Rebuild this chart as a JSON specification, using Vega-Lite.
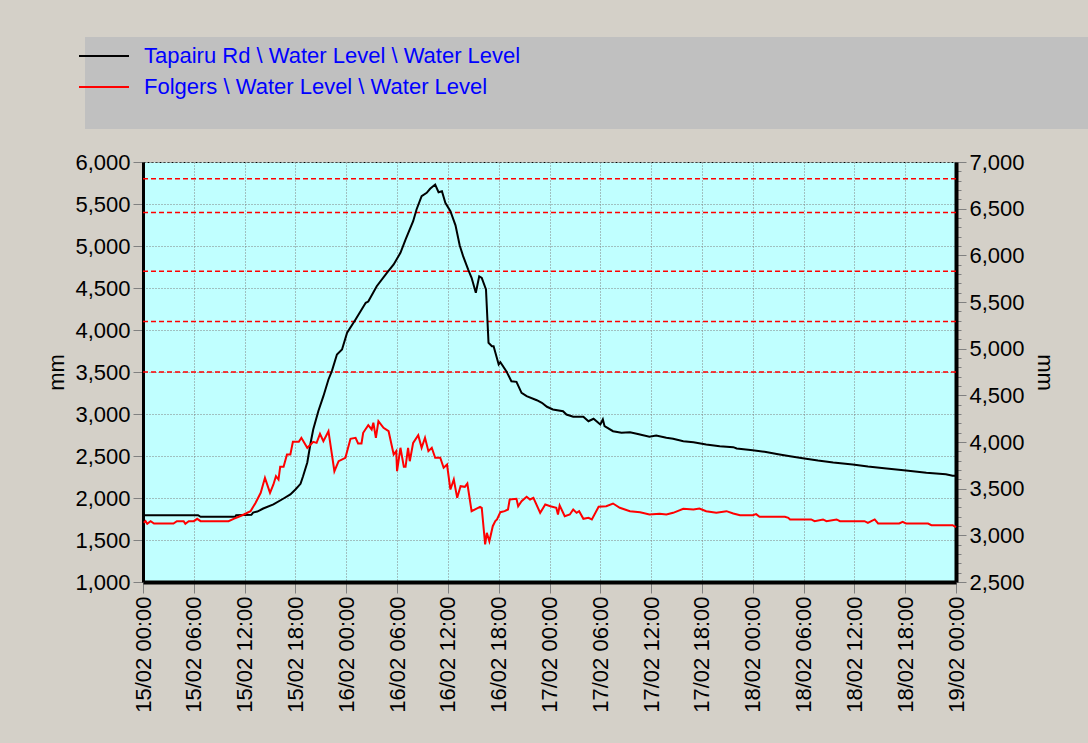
{
  "$schema": "https://vega.github.io/schema/vega-lite/v6.json",
  "width": 813,
  "height": 420,
  "autosize": {"type": "none"},
  "padding": {"left": 143, "top": 162, "right": 132, "bottom": 161},
  "background": "#d4d0c8",
  "config": {
    "font": "Liberation Sans",
    "view": {"fill": "#c0ffff", "stroke": "#000000", "strokeDash": [2, 2], "strokeWidth": 1},
    "axis": {
      "labelFont": "Liberation Sans",
      "labelFontSize": 22,
      "labelColor": "#000000",
      "titleFont": "Liberation Sans",
      "titleFontSize": 22,
      "titleFontWeight": "normal",
      "titleColor": "#000000",
      "domainColor": "#000000",
      "domainWidth": 3,
      "tickColor": "#808080",
      "tickWidth": 1,
      "tickSize": 10,
      "gridColor": "#808080",
      "gridDash": [1, 2],
      "gridWidth": 1
    }
  },
  "datasets": {
    "tap": [
      {"t": "2021-02-15T00:00", "s": "Tapairu Rd \\ Water Level \\ Water Level", "v": 1795},
      {"t": "2021-02-15T06:30", "s": "Tapairu Rd \\ Water Level \\ Water Level", "v": 1795},
      {"t": "2021-02-15T06:48", "s": "Tapairu Rd \\ Water Level \\ Water Level", "v": 1776},
      {"t": "2021-02-15T10:54", "s": "Tapairu Rd \\ Water Level \\ Water Level", "v": 1776},
      {"t": "2021-02-15T11:00", "s": "Tapairu Rd \\ Water Level \\ Water Level", "v": 1795},
      {"t": "2021-02-15T12:48", "s": "Tapairu Rd \\ Water Level \\ Water Level", "v": 1800},
      {"t": "2021-02-15T13:00", "s": "Tapairu Rd \\ Water Level \\ Water Level", "v": 1827},
      {"t": "2021-02-15T13:30", "s": "Tapairu Rd \\ Water Level \\ Water Level", "v": 1839},
      {"t": "2021-02-15T14:12", "s": "Tapairu Rd \\ Water Level \\ Water Level", "v": 1875},
      {"t": "2021-02-15T15:24", "s": "Tapairu Rd \\ Water Level \\ Water Level", "v": 1923},
      {"t": "2021-02-15T16:36", "s": "Tapairu Rd \\ Water Level \\ Water Level", "v": 1994},
      {"t": "2021-02-15T17:24", "s": "Tapairu Rd \\ Water Level \\ Water Level", "v": 2042},
      {"t": "2021-02-15T18:00", "s": "Tapairu Rd \\ Water Level \\ Water Level", "v": 2101},
      {"t": "2021-02-15T18:36", "s": "Tapairu Rd \\ Water Level \\ Water Level", "v": 2169},
      {"t": "2021-02-15T18:54", "s": "Tapairu Rd \\ Water Level \\ Water Level", "v": 2259},
      {"t": "2021-02-15T19:24", "s": "Tapairu Rd \\ Water Level \\ Water Level", "v": 2423},
      {"t": "2021-02-15T19:48", "s": "Tapairu Rd \\ Water Level \\ Water Level", "v": 2661},
      {"t": "2021-02-15T20:06", "s": "Tapairu Rd \\ Water Level \\ Water Level", "v": 2815},
      {"t": "2021-02-15T20:42", "s": "Tapairu Rd \\ Water Level \\ Water Level", "v": 3033},
      {"t": "2021-02-15T21:18", "s": "Tapairu Rd \\ Water Level \\ Water Level", "v": 3212},
      {"t": "2021-02-15T21:54", "s": "Tapairu Rd \\ Water Level \\ Water Level", "v": 3411},
      {"t": "2021-02-15T22:18", "s": "Tapairu Rd \\ Water Level \\ Water Level", "v": 3510},
      {"t": "2021-02-15T22:54", "s": "Tapairu Rd \\ Water Level \\ Water Level", "v": 3708},
      {"t": "2021-02-15T23:30", "s": "Tapairu Rd \\ Water Level \\ Water Level", "v": 3768},
      {"t": "2021-02-16T00:06", "s": "Tapairu Rd \\ Water Level \\ Water Level", "v": 3967},
      {"t": "2021-02-16T01:06", "s": "Tapairu Rd \\ Water Level \\ Water Level", "v": 4125},
      {"t": "2021-02-16T02:18", "s": "Tapairu Rd \\ Water Level \\ Water Level", "v": 4324},
      {"t": "2021-02-16T02:36", "s": "Tapairu Rd \\ Water Level \\ Water Level", "v": 4339},
      {"t": "2021-02-16T03:36", "s": "Tapairu Rd \\ Water Level \\ Water Level", "v": 4521},
      {"t": "2021-02-16T04:48", "s": "Tapairu Rd \\ Water Level \\ Water Level", "v": 4681},
      {"t": "2021-02-16T05:36", "s": "Tapairu Rd \\ Water Level \\ Water Level", "v": 4780},
      {"t": "2021-02-16T06:24", "s": "Tapairu Rd \\ Water Level \\ Water Level", "v": 4919},
      {"t": "2021-02-16T07:00", "s": "Tapairu Rd \\ Water Level \\ Water Level", "v": 5077},
      {"t": "2021-02-16T07:54", "s": "Tapairu Rd \\ Water Level \\ Water Level", "v": 5295},
      {"t": "2021-02-16T08:18", "s": "Tapairu Rd \\ Water Level \\ Water Level", "v": 5435},
      {"t": "2021-02-16T08:54", "s": "Tapairu Rd \\ Water Level \\ Water Level", "v": 5593},
      {"t": "2021-02-16T09:30", "s": "Tapairu Rd \\ Water Level \\ Water Level", "v": 5633},
      {"t": "2021-02-16T09:54", "s": "Tapairu Rd \\ Water Level \\ Water Level", "v": 5681},
      {"t": "2021-02-16T10:30", "s": "Tapairu Rd \\ Water Level \\ Water Level", "v": 5732},
      {"t": "2021-02-16T10:54", "s": "Tapairu Rd \\ Water Level \\ Water Level", "v": 5640},
      {"t": "2021-02-16T11:18", "s": "Tapairu Rd \\ Water Level \\ Water Level", "v": 5652},
      {"t": "2021-02-16T11:42", "s": "Tapairu Rd \\ Water Level \\ Water Level", "v": 5514},
      {"t": "2021-02-16T12:18", "s": "Tapairu Rd \\ Water Level \\ Water Level", "v": 5414},
      {"t": "2021-02-16T12:54", "s": "Tapairu Rd \\ Water Level \\ Water Level", "v": 5246},
      {"t": "2021-02-16T13:24", "s": "Tapairu Rd \\ Water Level \\ Water Level", "v": 5006},
      {"t": "2021-02-16T13:48", "s": "Tapairu Rd \\ Water Level \\ Water Level", "v": 4879},
      {"t": "2021-02-16T14:24", "s": "Tapairu Rd \\ Water Level \\ Water Level", "v": 4720},
      {"t": "2021-02-16T14:48", "s": "Tapairu Rd \\ Water Level \\ Water Level", "v": 4621},
      {"t": "2021-02-16T15:18", "s": "Tapairu Rd \\ Water Level \\ Water Level", "v": 4443},
      {"t": "2021-02-16T15:42", "s": "Tapairu Rd \\ Water Level \\ Water Level", "v": 4640},
      {"t": "2021-02-16T16:00", "s": "Tapairu Rd \\ Water Level \\ Water Level", "v": 4621},
      {"t": "2021-02-16T16:30", "s": "Tapairu Rd \\ Water Level \\ Water Level", "v": 4482},
      {"t": "2021-02-16T16:48", "s": "Tapairu Rd \\ Water Level \\ Water Level", "v": 3848},
      {"t": "2021-02-16T17:12", "s": "Tapairu Rd \\ Water Level \\ Water Level", "v": 3807},
      {"t": "2021-02-16T17:24", "s": "Tapairu Rd \\ Water Level \\ Water Level", "v": 3807},
      {"t": "2021-02-16T18:00", "s": "Tapairu Rd \\ Water Level \\ Water Level", "v": 3589},
      {"t": "2021-02-16T18:12", "s": "Tapairu Rd \\ Water Level \\ Water Level", "v": 3617},
      {"t": "2021-02-16T18:54", "s": "Tapairu Rd \\ Water Level \\ Water Level", "v": 3510},
      {"t": "2021-02-16T19:30", "s": "Tapairu Rd \\ Water Level \\ Water Level", "v": 3390},
      {"t": "2021-02-16T20:06", "s": "Tapairu Rd \\ Water Level \\ Water Level", "v": 3383},
      {"t": "2021-02-16T20:42", "s": "Tapairu Rd \\ Water Level \\ Water Level", "v": 3252},
      {"t": "2021-02-16T21:18", "s": "Tapairu Rd \\ Water Level \\ Water Level", "v": 3212},
      {"t": "2021-02-16T22:30", "s": "Tapairu Rd \\ Water Level \\ Water Level", "v": 3164},
      {"t": "2021-02-16T23:06", "s": "Tapairu Rd \\ Water Level \\ Water Level", "v": 3133},
      {"t": "2021-02-16T23:42", "s": "Tapairu Rd \\ Water Level \\ Water Level", "v": 3086},
      {"t": "2021-02-17T00:24", "s": "Tapairu Rd \\ Water Level \\ Water Level", "v": 3054},
      {"t": "2021-02-17T01:36", "s": "Tapairu Rd \\ Water Level \\ Water Level", "v": 3033},
      {"t": "2021-02-17T02:00", "s": "Tapairu Rd \\ Water Level \\ Water Level", "v": 2994},
      {"t": "2021-02-17T02:48", "s": "Tapairu Rd \\ Water Level \\ Water Level", "v": 2967},
      {"t": "2021-02-17T04:00", "s": "Tapairu Rd \\ Water Level \\ Water Level", "v": 2967},
      {"t": "2021-02-17T04:36", "s": "Tapairu Rd \\ Water Level \\ Water Level", "v": 2914},
      {"t": "2021-02-17T05:12", "s": "Tapairu Rd \\ Water Level \\ Water Level", "v": 2943},
      {"t": "2021-02-17T06:00", "s": "Tapairu Rd \\ Water Level \\ Water Level", "v": 2875},
      {"t": "2021-02-17T06:18", "s": "Tapairu Rd \\ Water Level \\ Water Level", "v": 2935},
      {"t": "2021-02-17T06:30", "s": "Tapairu Rd \\ Water Level \\ Water Level", "v": 2855},
      {"t": "2021-02-17T07:30", "s": "Tapairu Rd \\ Water Level \\ Water Level", "v": 2795},
      {"t": "2021-02-17T08:30", "s": "Tapairu Rd \\ Water Level \\ Water Level", "v": 2776},
      {"t": "2021-02-17T09:30", "s": "Tapairu Rd \\ Water Level \\ Water Level", "v": 2783},
      {"t": "2021-02-17T10:18", "s": "Tapairu Rd \\ Water Level \\ Water Level", "v": 2764},
      {"t": "2021-02-17T11:48", "s": "Tapairu Rd \\ Water Level \\ Water Level", "v": 2729},
      {"t": "2021-02-17T12:36", "s": "Tapairu Rd \\ Water Level \\ Water Level", "v": 2744},
      {"t": "2021-02-17T13:48", "s": "Tapairu Rd \\ Water Level \\ Water Level", "v": 2717},
      {"t": "2021-02-17T14:36", "s": "Tapairu Rd \\ Water Level \\ Water Level", "v": 2705},
      {"t": "2021-02-17T15:48", "s": "Tapairu Rd \\ Water Level \\ Water Level", "v": 2676},
      {"t": "2021-02-17T17:00", "s": "Tapairu Rd \\ Water Level \\ Water Level", "v": 2664},
      {"t": "2021-02-17T18:30", "s": "Tapairu Rd \\ Water Level \\ Water Level", "v": 2637},
      {"t": "2021-02-17T20:06", "s": "Tapairu Rd \\ Water Level \\ Water Level", "v": 2617},
      {"t": "2021-02-17T21:42", "s": "Tapairu Rd \\ Water Level \\ Water Level", "v": 2605},
      {"t": "2021-02-17T22:06", "s": "Tapairu Rd \\ Water Level \\ Water Level", "v": 2589},
      {"t": "2021-02-18T00:00", "s": "Tapairu Rd \\ Water Level \\ Water Level", "v": 2569},
      {"t": "2021-02-18T01:24", "s": "Tapairu Rd \\ Water Level \\ Water Level", "v": 2550},
      {"t": "2021-02-18T03:00", "s": "Tapairu Rd \\ Water Level \\ Water Level", "v": 2521},
      {"t": "2021-02-18T04:24", "s": "Tapairu Rd \\ Water Level \\ Water Level", "v": 2498},
      {"t": "2021-02-18T05:54", "s": "Tapairu Rd \\ Water Level \\ Water Level", "v": 2474},
      {"t": "2021-02-18T07:42", "s": "Tapairu Rd \\ Water Level \\ Water Level", "v": 2446},
      {"t": "2021-02-18T09:30", "s": "Tapairu Rd \\ Water Level \\ Water Level", "v": 2423},
      {"t": "2021-02-18T11:48", "s": "Tapairu Rd \\ Water Level \\ Water Level", "v": 2399},
      {"t": "2021-02-18T13:36", "s": "Tapairu Rd \\ Water Level \\ Water Level", "v": 2375},
      {"t": "2021-02-18T15:48", "s": "Tapairu Rd \\ Water Level \\ Water Level", "v": 2351},
      {"t": "2021-02-18T18:06", "s": "Tapairu Rd \\ Water Level \\ Water Level", "v": 2327},
      {"t": "2021-02-18T20:30", "s": "Tapairu Rd \\ Water Level \\ Water Level", "v": 2300},
      {"t": "2021-02-18T22:48", "s": "Tapairu Rd \\ Water Level \\ Water Level", "v": 2283},
      {"t": "2021-02-18T23:36", "s": "Tapairu Rd \\ Water Level \\ Water Level", "v": 2264},
      {"t": "2021-02-19T00:00", "s": "Tapairu Rd \\ Water Level \\ Water Level", "v": 2264}
    ],
    "fol": [
      {"t": "2021-02-15T00:06", "s": "Folgers \\ Water Level \\ Water Level", "v": 3134},
      {"t": "2021-02-15T00:18", "s": "Folgers \\ Water Level \\ Water Level", "v": 3152},
      {"t": "2021-02-15T00:30", "s": "Folgers \\ Water Level \\ Water Level", "v": 3124},
      {"t": "2021-02-15T00:54", "s": "Folgers \\ Water Level \\ Water Level", "v": 3152},
      {"t": "2021-02-15T01:18", "s": "Folgers \\ Water Level \\ Water Level", "v": 3127},
      {"t": "2021-02-15T03:36", "s": "Folgers \\ Water Level \\ Water Level", "v": 3127},
      {"t": "2021-02-15T04:00", "s": "Folgers \\ Water Level \\ Water Level", "v": 3152},
      {"t": "2021-02-15T04:48", "s": "Folgers \\ Water Level \\ Water Level", "v": 3152},
      {"t": "2021-02-15T05:00", "s": "Folgers \\ Water Level \\ Water Level", "v": 3124},
      {"t": "2021-02-15T05:24", "s": "Folgers \\ Water Level \\ Water Level", "v": 3152},
      {"t": "2021-02-15T06:00", "s": "Folgers \\ Water Level \\ Water Level", "v": 3152},
      {"t": "2021-02-15T06:24", "s": "Folgers \\ Water Level \\ Water Level", "v": 3177},
      {"t": "2021-02-15T06:48", "s": "Folgers \\ Water Level \\ Water Level", "v": 3152},
      {"t": "2021-02-15T10:06", "s": "Folgers \\ Water Level \\ Water Level", "v": 3152},
      {"t": "2021-02-15T10:42", "s": "Folgers \\ Water Level \\ Water Level", "v": 3177},
      {"t": "2021-02-15T11:18", "s": "Folgers \\ Water Level \\ Water Level", "v": 3199},
      {"t": "2021-02-15T11:54", "s": "Folgers \\ Water Level \\ Water Level", "v": 3223},
      {"t": "2021-02-15T12:42", "s": "Folgers \\ Water Level \\ Water Level", "v": 3259},
      {"t": "2021-02-15T13:18", "s": "Folgers \\ Water Level \\ Water Level", "v": 3349},
      {"t": "2021-02-15T13:54", "s": "Folgers \\ Water Level \\ Water Level", "v": 3456},
      {"t": "2021-02-15T14:24", "s": "Folgers \\ Water Level \\ Water Level", "v": 3616},
      {"t": "2021-02-15T15:00", "s": "Folgers \\ Water Level \\ Water Level", "v": 3456},
      {"t": "2021-02-15T15:24", "s": "Folgers \\ Water Level \\ Water Level", "v": 3545},
      {"t": "2021-02-15T15:42", "s": "Folgers \\ Water Level \\ Water Level", "v": 3634},
      {"t": "2021-02-15T16:00", "s": "Folgers \\ Water Level \\ Water Level", "v": 3598},
      {"t": "2021-02-15T16:12", "s": "Folgers \\ Water Level \\ Water Level", "v": 3734},
      {"t": "2021-02-15T16:36", "s": "Folgers \\ Water Level \\ Water Level", "v": 3734},
      {"t": "2021-02-15T17:00", "s": "Folgers \\ Water Level \\ Water Level", "v": 3866},
      {"t": "2021-02-15T17:24", "s": "Folgers \\ Water Level \\ Water Level", "v": 3866},
      {"t": "2021-02-15T17:42", "s": "Folgers \\ Water Level \\ Water Level", "v": 4002},
      {"t": "2021-02-15T18:24", "s": "Folgers \\ Water Level \\ Water Level", "v": 4002},
      {"t": "2021-02-15T18:42", "s": "Folgers \\ Water Level \\ Water Level", "v": 4045},
      {"t": "2021-02-15T19:24", "s": "Folgers \\ Water Level \\ Water Level", "v": 3938},
      {"t": "2021-02-15T19:48", "s": "Folgers \\ Water Level \\ Water Level", "v": 3973},
      {"t": "2021-02-15T20:06", "s": "Folgers \\ Water Level \\ Water Level", "v": 4002},
      {"t": "2021-02-15T20:30", "s": "Folgers \\ Water Level \\ Water Level", "v": 3991},
      {"t": "2021-02-15T20:54", "s": "Folgers \\ Water Level \\ Water Level", "v": 4088},
      {"t": "2021-02-15T21:18", "s": "Folgers \\ Water Level \\ Water Level", "v": 4009},
      {"t": "2021-02-15T21:54", "s": "Folgers \\ Water Level \\ Water Level", "v": 4116},
      {"t": "2021-02-15T22:36", "s": "Folgers \\ Water Level \\ Water Level", "v": 3687},
      {"t": "2021-02-15T23:06", "s": "Folgers \\ Water Level \\ Water Level", "v": 3794},
      {"t": "2021-02-15T23:54", "s": "Folgers \\ Water Level \\ Water Level", "v": 3831},
      {"t": "2021-02-16T00:30", "s": "Folgers \\ Water Level \\ Water Level", "v": 4034},
      {"t": "2021-02-16T01:06", "s": "Folgers \\ Water Level \\ Water Level", "v": 4045},
      {"t": "2021-02-16T01:24", "s": "Folgers \\ Water Level \\ Water Level", "v": 3984},
      {"t": "2021-02-16T01:48", "s": "Folgers \\ Water Level \\ Water Level", "v": 3984},
      {"t": "2021-02-16T02:00", "s": "Folgers \\ Water Level \\ Water Level", "v": 4099},
      {"t": "2021-02-16T02:36", "s": "Folgers \\ Water Level \\ Water Level", "v": 4180},
      {"t": "2021-02-16T03:00", "s": "Folgers \\ Water Level \\ Water Level", "v": 4134},
      {"t": "2021-02-16T03:12", "s": "Folgers \\ Water Level \\ Water Level", "v": 4206},
      {"t": "2021-02-16T03:30", "s": "Folgers \\ Water Level \\ Water Level", "v": 4045},
      {"t": "2021-02-16T03:48", "s": "Folgers \\ Water Level \\ Water Level", "v": 4223},
      {"t": "2021-02-16T04:24", "s": "Folgers \\ Water Level \\ Water Level", "v": 4152},
      {"t": "2021-02-16T05:00", "s": "Folgers \\ Water Level \\ Water Level", "v": 4116},
      {"t": "2021-02-16T05:36", "s": "Folgers \\ Water Level \\ Water Level", "v": 3866},
      {"t": "2021-02-16T05:54", "s": "Folgers \\ Water Level \\ Water Level", "v": 3902},
      {"t": "2021-02-16T06:00", "s": "Folgers \\ Water Level \\ Water Level", "v": 3687},
      {"t": "2021-02-16T06:24", "s": "Folgers \\ Water Level \\ Water Level", "v": 3938},
      {"t": "2021-02-16T06:48", "s": "Folgers \\ Water Level \\ Water Level", "v": 3734},
      {"t": "2021-02-16T07:00", "s": "Folgers \\ Water Level \\ Water Level", "v": 3734},
      {"t": "2021-02-16T07:18", "s": "Folgers \\ Water Level \\ Water Level", "v": 3938},
      {"t": "2021-02-16T07:30", "s": "Folgers \\ Water Level \\ Water Level", "v": 3794},
      {"t": "2021-02-16T07:54", "s": "Folgers \\ Water Level \\ Water Level", "v": 3991},
      {"t": "2021-02-16T08:30", "s": "Folgers \\ Water Level \\ Water Level", "v": 4073},
      {"t": "2021-02-16T08:54", "s": "Folgers \\ Water Level \\ Water Level", "v": 3938},
      {"t": "2021-02-16T09:18", "s": "Folgers \\ Water Level \\ Water Level", "v": 4045},
      {"t": "2021-02-16T09:42", "s": "Folgers \\ Water Level \\ Water Level", "v": 3902},
      {"t": "2021-02-16T10:06", "s": "Folgers \\ Water Level \\ Water Level", "v": 3938},
      {"t": "2021-02-16T10:30", "s": "Folgers \\ Water Level \\ Water Level", "v": 3831},
      {"t": "2021-02-16T11:06", "s": "Folgers \\ Water Level \\ Water Level", "v": 3831},
      {"t": "2021-02-16T11:30", "s": "Folgers \\ Water Level \\ Water Level", "v": 3724},
      {"t": "2021-02-16T11:54", "s": "Folgers \\ Water Level \\ Water Level", "v": 3759},
      {"t": "2021-02-16T12:18", "s": "Folgers \\ Water Level \\ Water Level", "v": 3491},
      {"t": "2021-02-16T12:42", "s": "Folgers \\ Water Level \\ Water Level", "v": 3598},
      {"t": "2021-02-16T13:06", "s": "Folgers \\ Water Level \\ Water Level", "v": 3402},
      {"t": "2021-02-16T13:30", "s": "Folgers \\ Water Level \\ Water Level", "v": 3527},
      {"t": "2021-02-16T14:00", "s": "Folgers \\ Water Level \\ Water Level", "v": 3520},
      {"t": "2021-02-16T14:18", "s": "Folgers \\ Water Level \\ Water Level", "v": 3555},
      {"t": "2021-02-16T14:48", "s": "Folgers \\ Water Level \\ Water Level", "v": 3259},
      {"t": "2021-02-16T15:48", "s": "Folgers \\ Water Level \\ Water Level", "v": 3306},
      {"t": "2021-02-16T16:00", "s": "Folgers \\ Water Level \\ Water Level", "v": 3295},
      {"t": "2021-02-16T16:24", "s": "Folgers \\ Water Level \\ Water Level", "v": 2902},
      {"t": "2021-02-16T16:36", "s": "Folgers \\ Water Level \\ Water Level", "v": 3027},
      {"t": "2021-02-16T16:54", "s": "Folgers \\ Water Level \\ Water Level", "v": 2937},
      {"t": "2021-02-16T17:18", "s": "Folgers \\ Water Level \\ Water Level", "v": 3098},
      {"t": "2021-02-16T17:36", "s": "Folgers \\ Water Level \\ Water Level", "v": 3152},
      {"t": "2021-02-16T17:48", "s": "Folgers \\ Water Level \\ Water Level", "v": 3170},
      {"t": "2021-02-16T18:12", "s": "Folgers \\ Water Level \\ Water Level", "v": 3248},
      {"t": "2021-02-16T18:42", "s": "Folgers \\ Water Level \\ Water Level", "v": 3259},
      {"t": "2021-02-16T19:06", "s": "Folgers \\ Water Level \\ Water Level", "v": 3277},
      {"t": "2021-02-16T19:18", "s": "Folgers \\ Water Level \\ Water Level", "v": 3384},
      {"t": "2021-02-16T20:06", "s": "Folgers \\ Water Level \\ Water Level", "v": 3391},
      {"t": "2021-02-16T20:18", "s": "Folgers \\ Water Level \\ Water Level", "v": 3312},
      {"t": "2021-02-16T20:42", "s": "Folgers \\ Water Level \\ Water Level", "v": 3366},
      {"t": "2021-02-16T21:18", "s": "Folgers \\ Water Level \\ Water Level", "v": 3413},
      {"t": "2021-02-16T21:42", "s": "Folgers \\ Water Level \\ Water Level", "v": 3384},
      {"t": "2021-02-16T22:06", "s": "Folgers \\ Water Level \\ Water Level", "v": 3402},
      {"t": "2021-02-16T22:54", "s": "Folgers \\ Water Level \\ Water Level", "v": 3241},
      {"t": "2021-02-16T23:30", "s": "Folgers \\ Water Level \\ Water Level", "v": 3330},
      {"t": "2021-02-17T00:06", "s": "Folgers \\ Water Level \\ Water Level", "v": 3312},
      {"t": "2021-02-17T00:48", "s": "Folgers \\ Water Level \\ Water Level", "v": 3295},
      {"t": "2021-02-17T01:00", "s": "Folgers \\ Water Level \\ Water Level", "v": 3223},
      {"t": "2021-02-17T01:12", "s": "Folgers \\ Water Level \\ Water Level", "v": 3320},
      {"t": "2021-02-17T01:48", "s": "Folgers \\ Water Level \\ Water Level", "v": 3205},
      {"t": "2021-02-17T02:24", "s": "Folgers \\ Water Level \\ Water Level", "v": 3223},
      {"t": "2021-02-17T02:48", "s": "Folgers \\ Water Level \\ Water Level", "v": 3277},
      {"t": "2021-02-17T03:12", "s": "Folgers \\ Water Level \\ Water Level", "v": 3241},
      {"t": "2021-02-17T03:30", "s": "Folgers \\ Water Level \\ Water Level", "v": 3259},
      {"t": "2021-02-17T04:00", "s": "Folgers \\ Water Level \\ Water Level", "v": 3177},
      {"t": "2021-02-17T04:36", "s": "Folgers \\ Water Level \\ Water Level", "v": 3188},
      {"t": "2021-02-17T05:00", "s": "Folgers \\ Water Level \\ Water Level", "v": 3170},
      {"t": "2021-02-17T05:48", "s": "Folgers \\ Water Level \\ Water Level", "v": 3306},
      {"t": "2021-02-17T06:42", "s": "Folgers \\ Water Level \\ Water Level", "v": 3312},
      {"t": "2021-02-17T07:30", "s": "Folgers \\ Water Level \\ Water Level", "v": 3341},
      {"t": "2021-02-17T08:18", "s": "Folgers \\ Water Level \\ Water Level", "v": 3295},
      {"t": "2021-02-17T09:30", "s": "Folgers \\ Water Level \\ Water Level", "v": 3259},
      {"t": "2021-02-17T10:42", "s": "Folgers \\ Water Level \\ Water Level", "v": 3248},
      {"t": "2021-02-17T11:48", "s": "Folgers \\ Water Level \\ Water Level", "v": 3223},
      {"t": "2021-02-17T13:00", "s": "Folgers \\ Water Level \\ Water Level", "v": 3231},
      {"t": "2021-02-17T13:48", "s": "Folgers \\ Water Level \\ Water Level", "v": 3223},
      {"t": "2021-02-17T14:36", "s": "Folgers \\ Water Level \\ Water Level", "v": 3241},
      {"t": "2021-02-17T15:48", "s": "Folgers \\ Water Level \\ Water Level", "v": 3284},
      {"t": "2021-02-17T17:00", "s": "Folgers \\ Water Level \\ Water Level", "v": 3277},
      {"t": "2021-02-17T17:42", "s": "Folgers \\ Water Level \\ Water Level", "v": 3288},
      {"t": "2021-02-17T18:30", "s": "Folgers \\ Water Level \\ Water Level", "v": 3259},
      {"t": "2021-02-17T19:42", "s": "Folgers \\ Water Level \\ Water Level", "v": 3241},
      {"t": "2021-02-17T20:54", "s": "Folgers \\ Water Level \\ Water Level", "v": 3259},
      {"t": "2021-02-17T21:42", "s": "Folgers \\ Water Level \\ Water Level", "v": 3234},
      {"t": "2021-02-17T22:30", "s": "Folgers \\ Water Level \\ Water Level", "v": 3216},
      {"t": "2021-02-18T00:00", "s": "Folgers \\ Water Level \\ Water Level", "v": 3216},
      {"t": "2021-02-18T00:24", "s": "Folgers \\ Water Level \\ Water Level", "v": 3227},
      {"t": "2021-02-18T00:48", "s": "Folgers \\ Water Level \\ Water Level", "v": 3199},
      {"t": "2021-02-18T03:48", "s": "Folgers \\ Water Level \\ Water Level", "v": 3199},
      {"t": "2021-02-18T04:12", "s": "Folgers \\ Water Level \\ Water Level", "v": 3188},
      {"t": "2021-02-18T04:24", "s": "Folgers \\ Water Level \\ Water Level", "v": 3170},
      {"t": "2021-02-18T06:54", "s": "Folgers \\ Water Level \\ Water Level", "v": 3170},
      {"t": "2021-02-18T07:18", "s": "Folgers \\ Water Level \\ Water Level", "v": 3152},
      {"t": "2021-02-18T08:18", "s": "Folgers \\ Water Level \\ Water Level", "v": 3170},
      {"t": "2021-02-18T08:42", "s": "Folgers \\ Water Level \\ Water Level", "v": 3152},
      {"t": "2021-02-18T09:54", "s": "Folgers \\ Water Level \\ Water Level", "v": 3170},
      {"t": "2021-02-18T10:18", "s": "Folgers \\ Water Level \\ Water Level", "v": 3152},
      {"t": "2021-02-18T13:12", "s": "Folgers \\ Water Level \\ Water Level", "v": 3152},
      {"t": "2021-02-18T13:36", "s": "Folgers \\ Water Level \\ Water Level", "v": 3134},
      {"t": "2021-02-18T14:00", "s": "Folgers \\ Water Level \\ Water Level", "v": 3152},
      {"t": "2021-02-18T14:24", "s": "Folgers \\ Water Level \\ Water Level", "v": 3170},
      {"t": "2021-02-18T14:48", "s": "Folgers \\ Water Level \\ Water Level", "v": 3127},
      {"t": "2021-02-18T17:18", "s": "Folgers \\ Water Level \\ Water Level", "v": 3127},
      {"t": "2021-02-18T17:42", "s": "Folgers \\ Water Level \\ Water Level", "v": 3145},
      {"t": "2021-02-18T18:06", "s": "Folgers \\ Water Level \\ Water Level", "v": 3127},
      {"t": "2021-02-18T20:42", "s": "Folgers \\ Water Level \\ Water Level", "v": 3127},
      {"t": "2021-02-18T21:06", "s": "Folgers \\ Water Level \\ Water Level", "v": 3109},
      {"t": "2021-02-18T23:36", "s": "Folgers \\ Water Level \\ Water Level", "v": 3109},
      {"t": "2021-02-19T00:00", "s": "Folgers \\ Water Level \\ Water Level", "v": 3087}
    ],
    "levels": [{"level": 5800}, {"level": 5400}, {"level": 4700}, {"level": 4100}, {"level": 3500}]
  },
  "layer": [
    {
      "layer": [
        {
          "data": {"name": "levels"},
          "mark": {"type": "rule", "color": "#ff0000", "strokeDash": [5, 3], "strokeWidth": 1.5},
          "encoding": {
            "y": {"field": "level", "type": "quantitative", "scale": {"domain": [1000, 6000]}}
          }
        },
        {
          "data": {"name": "tap"},
          "mark": {"type": "line", "strokeWidth": 2},
          "encoding": {
            "x": {
              "field": "t", "type": "temporal",
              "scale": {"domain": [{"year": 2021, "month": 2, "date": 15, "hours": 0}, {"year": 2021, "month": 2, "date": 19, "hours": 0}]},
              "axis": {
                "title": null,
                "values": [
                  {"year": 2021, "month": 2, "date": 15, "hours": 0},
                  {"year": 2021, "month": 2, "date": 15, "hours": 6},
                  {"year": 2021, "month": 2, "date": 15, "hours": 12},
                  {"year": 2021, "month": 2, "date": 15, "hours": 18},
                  {"year": 2021, "month": 2, "date": 16, "hours": 0},
                  {"year": 2021, "month": 2, "date": 16, "hours": 6},
                  {"year": 2021, "month": 2, "date": 16, "hours": 12},
                  {"year": 2021, "month": 2, "date": 16, "hours": 18},
                  {"year": 2021, "month": 2, "date": 17, "hours": 0},
                  {"year": 2021, "month": 2, "date": 17, "hours": 6},
                  {"year": 2021, "month": 2, "date": 17, "hours": 12},
                  {"year": 2021, "month": 2, "date": 17, "hours": 18},
                  {"year": 2021, "month": 2, "date": 18, "hours": 0},
                  {"year": 2021, "month": 2, "date": 18, "hours": 6},
                  {"year": 2021, "month": 2, "date": 18, "hours": 12},
                  {"year": 2021, "month": 2, "date": 18, "hours": 18},
                  {"year": 2021, "month": 2, "date": 19, "hours": 0}
                ],
                "format": "%d/%m %H:%M",
                "labelAngle": -90,
                "labelPadding": 3,
                "tickSize": 11,
                "domainWidth": 4
              }
            },
            "y": {
              "field": "v", "type": "quantitative",
              "scale": {"domain": [1000, 6000]},
              "axis": {
                "title": "mm",
                "titlePadding": 6,
                "values": [1000,1500,2000,2500,3000,3500,4000,4500,5000,5500,6000],
                "format": ",d",
                "labelPadding": 3,
                "tickSize": 10
              }
            },
            "color": {
              "field": "s", "type": "nominal",
              "scale": {"domain": ["Tapairu Rd \\ Water Level \\ Water Level", "Folgers \\ Water Level \\ Water Level"], "range": ["#000000", "#ff0000"]},
              "legend": {
                "orient": "none",
                "legendX": -58,
                "legendY": -125,
                "direction": "vertical",
                "title": "\u2800",
                "titleOrient": "right",
                "titleFont": "DejaVu Sans",
                "titleFontSize": 98,
                "titleColor": "#c0c0c0",
                "titlePadding": 490,
                "titleLimit": 1000,
                "fillColor": "#c0c0c0",
                "padding": 8,
                "symbolType": "M-5,0H5",
                "symbolSize": 100,
                "symbolStrokeWidth": 2,
                "labelFontSize": 22,
                "labelColor": "#0000ff",
                "labelOffset": 29,
                "labelLimit": 1000,
                "rowPadding": 9
              }
            }
          }
        }
      ]
    },
    {
      "data": {"name": "fol"},
      "mark": {"type": "line", "strokeWidth": 2},
      "encoding": {
        "x": {"field": "t", "type": "temporal"},
        "y": {
          "field": "v", "type": "quantitative",
          "scale": {"domain": [2500, 7000]},
          "axis": {
            "orient": "right",
            "title": "mm",
            "titlePadding": 8,
            "grid": false,
            "domainWidth": 4,
            "values": [2500,2600,2700,2800,2900,3000,3100,3200,3300,3400,3500,3600,3700,3800,3900,4000,4100,4200,4300,4400,4500,4600,4700,4800,4900,5000,5100,5200,5300,5400,5500,5600,5700,5800,5900,6000,6100,6200,6300,6400,6500,6600,6700,6800,6900,7000],
            "labelExpr": "datum.value % 500 === 0 ? format(datum.value, ',d') : ''",
            "labelPadding": 3,
            "tickSize": {"condition": {"test": "datum.value % 500 === 0", "value": 10}, "value": 5}
          }
        },
        "color": {"field": "s", "type": "nominal"}
      }
    }
  ],
  "resolve": {"scale": {"y": "independent"}}
}
